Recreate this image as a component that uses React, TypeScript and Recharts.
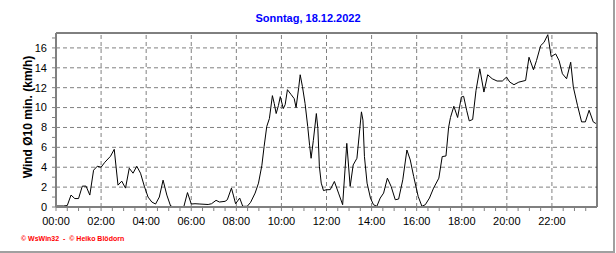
import React from "react";
import { LineChart, Line, XAxis, YAxis, ReferenceLine } from "recharts";

const TITLE = "Sonntag, 18.12.2022";
const Y_LABEL = "Wind Ø10 min. (km/h)";
const CREDITS = "© WsWin32  -  © Heiko Blödorn";

// time in minutes after midnight
const times = [
  0, 20, 30, 40, 50, 60, 70, 80, 90, 100, 110, 120, 130, 145, 155, 165, 175, 185, 195, 205,
  215, 225, 235, 245, 255, 265, 275, 285, 295, 305, 315, 340, 350, 360, 370, 383, 405, 414, 426, 435,
  450, 456, 467, 472, 478, 489, 497, 509, 518, 530, 539, 548, 554, 561, 568, 576, 581, 586, 592, 597,
  605, 610, 616, 626, 634, 639, 646, 650, 656, 663, 670, 675, 679, 685, 693, 697, 701, 706, 712, 719,
  730, 741, 752, 763, 774, 783, 791, 801, 813, 817, 821, 828, 837, 845, 854, 863, 872, 882, 892, 903,
  912, 923, 934, 943, 952, 964, 974, 983, 994, 1005, 1019, 1028, 1038, 1045, 1050, 1059, 1069, 1079, 1085, 1093,
  1100, 1109, 1118, 1128, 1139, 1149, 1161, 1174, 1188, 1199, 1208, 1219, 1232, 1250, 1259, 1271, 1279, 1290, 1299, 1309,
  1318, 1330, 1339, 1348, 1359, 1370, 1377, 1388, 1399, 1409, 1419, 1430, 1437,
];

const windValues = [
  0.1, 0.1, 0.15, 1.2, 0.85, 0.85, 2.1, 2.1, 1.2, 3.7, 4.1, 4.0, 4.5, 5.1, 5.8, 2.2, 2.6, 1.9, 3.9, 3.4,
  4.1, 3.4, 2.1, 1.0, 0.5, 0.3, 1.0, 2.7, 1.2, 0.1, 0, 0, 1.45, 0.3, 0.33, 0.3, 0.25, 0.33, 0.67, 0.5,
  0.57, 0.73, 1.9, 1.2, 0.33, 0.9, 0.07, 0.07, 0.47, 1.4, 2.4, 4.2, 6.1, 8.1, 8.9, 11.2, 10.4, 9.4, 10.2, 11.1,
  9.9, 10.3, 11.8, 11.3, 10.9, 10.0, 12.0, 13.3, 12.1, 10.4, 8.1, 6.2, 4.9, 6.7, 9.4, 7.9, 4.1, 2.4, 1.65, 1.73,
  1.75, 2.57, 1.4, 0.23, 6.4, 2.07, 4.23, 4.9, 9.57, 8.73, 5.07, 2.4, 0.9, 0.23, 0.07, 0.9, 1.4, 2.9, 2.07, 0.73,
  0.8, 2.73, 5.73, 4.73, 3.07, 1.07, 0.07, 0.23, 0.9, 1.9, 2.9, 5.07, 5.13, 8.0, 9.0, 10.13, 9.0, 11.06, 11.13, 9.73,
  8.66, 8.8, 11.73, 13.9, 11.56, 13.3, 12.9, 12.67, 12.67, 13.06, 12.56, 12.3, 12.56, 12.73, 15.06, 13.8, 14.73, 16.23, 16.56, 17.33,
  15.13, 15.4, 14.73, 13.4, 12.9, 14.56, 12.06, 10.23, 8.56, 8.56, 9.73, 8.56, 8.4,
];

const xTicks = Array.from({ length: 48 }, (_, i) => i * 30);
const xGrid = [120, 240, 360, 480, 600, 720, 840, 960, 1080, 1200, 1320];
const yTicks = Array.from({ length: 18 }, (_, i) => i);
const yGrid = [2, 4, 6, 8, 10, 12, 14, 16];
const X_MAX = 1440;
const Y_MAX = 17.5;

const data = times.map((t, i) => ({ t, v: windValues[i] }));

const FONT = "'Liberation Sans', Arial, sans-serif";

const fmtTime = (m: number) => {
  const h = Math.floor(m / 60);
  const mm = m % 60;
  return `${String(h).padStart(2, "0")}:${String(mm).padStart(2, "0")}`;
};

const XTick = (props: any) => {
  const { x, y, payload } = props;
  if (payload.value % 120 !== 0) return <g />;
  return (
    <text x={x} y={y} dy="0.71em" textAnchor="middle" fontSize={11} fontFamily={FONT} fill="#000">
      {fmtTime(payload.value)}
    </text>
  );
};

const YTick = (props: any) => {
  const { x, y, payload } = props;
  if (payload.value % 2 !== 0) return <g />;
  return (
    <text x={x} y={y} dy="0.355em" textAnchor="end" fontSize={11} fontFamily={FONT} fill="#000">
      {payload.value}
    </text>
  );
};

export default function App() {
  return (
    <div style={{ position: "absolute", left: 0, top: 0, width: 616, height: 253, background: "#fff" }}>
      <div
        style={{
          position: "absolute",
          left: 0,
          width: 616,
          top: 11,
          textAlign: "center",
          fontFamily: FONT,
          fontWeight: "bold",
          fontSize: 11,
          color: "#0000ff",
          lineHeight: "14px",
        }}
      >
        {TITLE}
      </div>
      <div
        style={{
          position: "absolute",
          left: 28 - 80,
          top: 117 - 8,
          width: 160,
          height: 16,
          lineHeight: "16px",
          textAlign: "center",
          transform: "rotate(-90deg)",
          fontFamily: FONT,
          fontWeight: "bold",
          fontSize: 12,
          color: "#000",
          whiteSpace: "nowrap",
        }}
      >
        {Y_LABEL}
      </div>
      <div
        style={{
          position: "absolute",
          left: 21,
          top: 234,
          fontFamily: FONT,
          fontWeight: "bold",
          fontSize: 7,
          color: "#ff0000",
          whiteSpace: "pre",
          lineHeight: "9px",
        }}
      >
        {CREDITS}
      </div>
      <div style={{ position: "absolute", left: 613, top: 0, width: 2, height: 253, background: "#a0a0a0" }} />
      <div style={{ position: "absolute", left: 0, top: 251, width: 615, height: 2, background: "#a0a0a0" }} />
      <div style={{ position: "absolute", left: 0, top: 0 }}>
        <LineChart width={616} height={253} data={data} margin={{ top: 33, right: 19, bottom: 0, left: 0 }}>
          <XAxis
            dataKey="t"
            type="number"
            domain={[0, X_MAX]}
            ticks={xTicks}
            interval={0}
            height={46}
            tick={<XTick />}
            tickSize={4}
            tickMargin={6}
            axisLine={{ stroke: "#808080", strokeWidth: 2 }}
            tickLine={{ stroke: "#808080" }}
            allowDataOverflow
          />
          <YAxis
            type="number"
            domain={[0, Y_MAX]}
            ticks={yTicks}
            interval={0}
            width={56}
            tick={<YTick />}
            tickSize={4}
            tickMargin={5}
            axisLine={{ stroke: "#808080", strokeWidth: 2 }}
            tickLine={{ stroke: "#808080" }}
            allowDataOverflow
          />
          {xGrid.map((g) => (
            <ReferenceLine key={`vx${g}`} x={g} stroke="#808080" strokeDasharray="4 3" />
          ))}
          {yGrid.map((g) => (
            <ReferenceLine key={`hy${g}`} y={g} stroke="#808080" strokeDasharray="4 3" />
          ))}
          <ReferenceLine y={Y_MAX} stroke="#000" />
          <ReferenceLine x={X_MAX} stroke="#000" />
          <Line
            type="linear"
            dataKey="v"
            stroke="#000"
            strokeWidth={1}
            dot={false}
            isAnimationActive={false}
          />
        </LineChart>
      </div>
    </div>
  );
}
